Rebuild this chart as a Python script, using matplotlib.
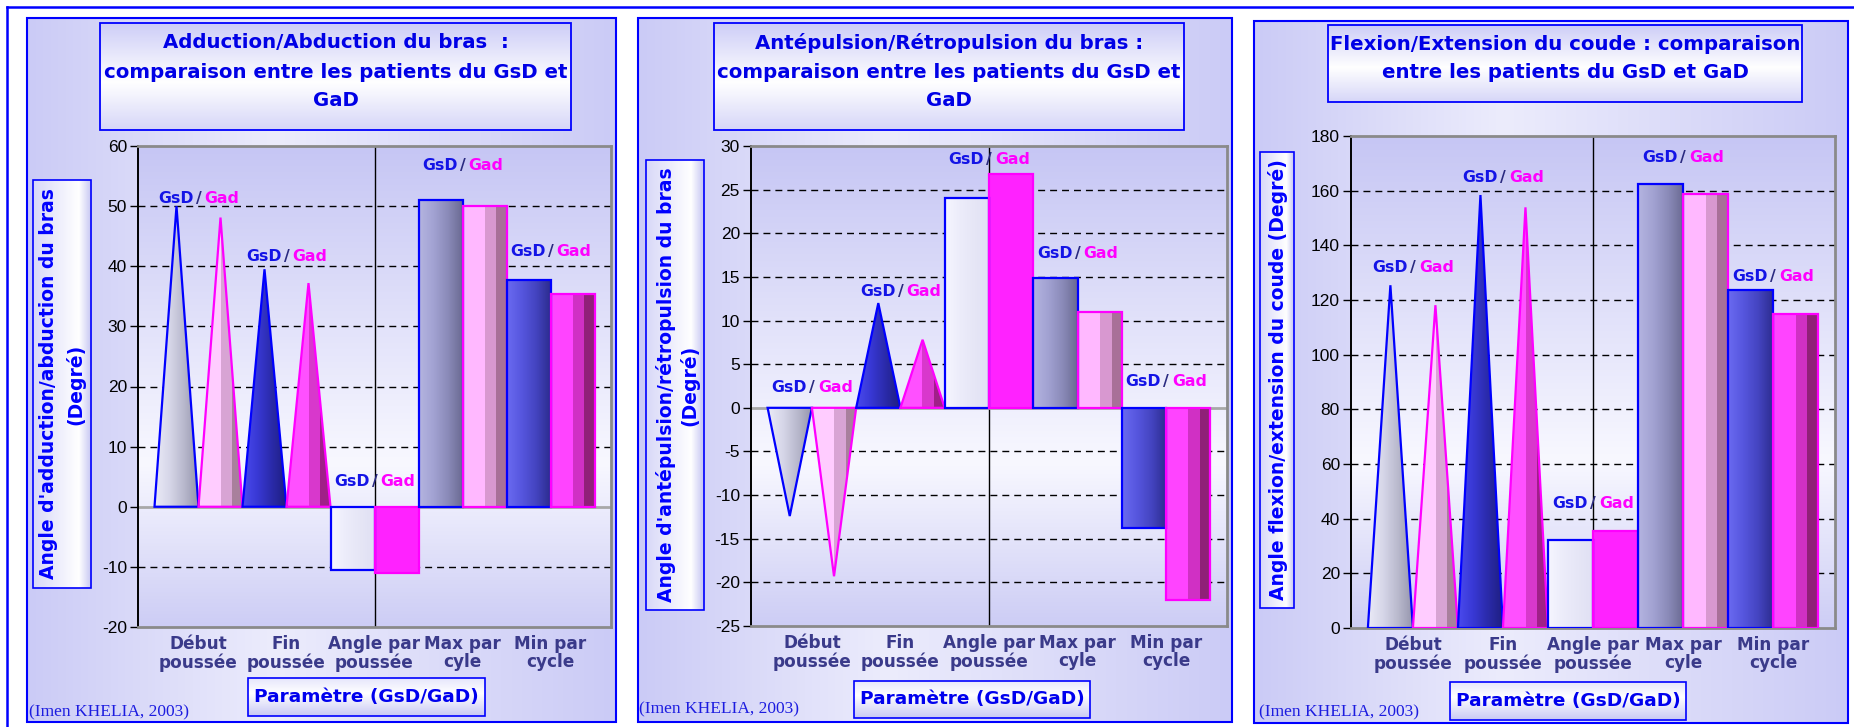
import numpy as np
import matplotlib
matplotlib.use('Agg')
import matplotlib.pyplot as plt
from matplotlib.patches import Rectangle, Polygon
from matplotlib.colors import to_rgb
from matplotlib.transforms import offset_copy
from matplotlib.lines import Line2D

# ---------------- data ----------------
categories = ["Début\npoussée", "Fin\npoussée", "Angle par\npoussée", "Max par\ncyle", "Min par\ncycle"]
series_names = ["GsD", "Gad"]

abd_gsd = [50.0, 39.5, -10.6, 51.0, 37.7]
abd_gad = [48.1, 37.2, -11.1, 50.0, 35.4]

ante_gsd = [-12.4, 12.0, 24.0, 14.9, -13.8]
ante_gad = [-19.3, 7.8, 26.8, 11.0, -22.0]

flex_gsd = [125.4, 158.4, 32.1, 162.5, 123.6]
flex_gad = [118.1, 153.9, 35.4, 158.9, 114.9]

yticks_abd = [-20, -10, 0, 10, 20, 30, 40, 50, 60]
yticks_ante = [-25, -20, -15, -10, -5, 0, 5, 10, 15, 20, 25, 30]
yticks_flex = [0, 20, 40, 60, 80, 100, 120, 140, 160, 180]

titles = [
    ["Adduction/Abduction du bras  :", "comparaison entre les patients du GsD et", "GaD"],
    ["Antépulsion/Rétropulsion du bras :", "comparaison entre les patients du GsD et", "GaD"],
    ["Flexion/Extension du coude : comparaison", "entre les patients du GsD et GaD"],
]
ylabels = [
    ["Angle d'adduction/abduction du bras", "(Degré)"],
    ["Angle d'antépulsion/rétropulsion du bras", "(Degré)"],
    ["Angle flexion/extension du coude (Degré)"],
]
xlabel_text = "Paramètre (GsD/GaD)"
credit_text = "(Imen KHELIA, 2003)"

# ---------------- layout (pixels) ----------------
W, H, DPI = 1854, 727, 100
panel_boxes = [(27, 18, 616, 722), (638, 18, 1232, 722), (1254, 21, 1848, 723)]
axes_boxes = [(138, 146, 611, 627), (751, 146, 1227, 626), (1351, 136, 1835, 628)]
title_boxes = [(100, 23, 571, 130), (714, 23, 1184, 130), (1328, 25, 1802, 102)]
title_line_y = [[43, 72, 100], [43, 72, 100], [45, 73]]
ylabel_boxes = [(33, 180, 91, 588), (646, 160, 704, 610), (1260, 152, 1294, 608)]
ylabel_line_x = [[49, 75], [666, 689], [1278]]
xlabel_boxes = [(248, 678, 485, 716), (854, 681, 1090, 718), (1450, 682, 1686, 720)]
credit_pos = [(29, 712), (639, 709), (1259, 712)]
label_offsets = [[8, 13, 25, 35, 29], [20, 12, 14, 24, 26], [18, 18, 28, 26, 14]]
bar_shapes = ['cone', 'cone', 'bar', 'bar', 'bar']

# fills: (GsD smooth stops, GaD stepped segments)
fills = [
    (['#eaeaf6', '#d6d6e8', '#b8b8cc', '#9494ac'], [('#ffccff', 0.5), ('#d8a4d4', 0.25), ('#a8809c', 0.25)]),
    (['#4a4aee', '#3838d4', '#2a2aa8', '#1e1e80'], [('#ff50ff', 0.5), ('#d838cc', 0.25), ('#a02088', 0.25)]),
    (['#f6f6ff', '#ececfa', '#e6e6f6', '#e0e0f4'], [('#ff22ff', 1.0)]),
    (['#b4b4e0', '#a2a2d2', '#8a8ab8', '#6a6a92'], [('#ffb8ff', 0.5), ('#d898d0', 0.25), ('#a87098', 0.25)]),
    (['#6a6af0', '#5656de', '#4444c0', '#2c2c8e'], [('#ff44ff', 0.5), ('#d030c4', 0.25), ('#902078', 0.25)]),
]
edge_colors = ['#0000ff', '#ff00ff']

plt.rcParams['axes.unicode_minus'] = False

fig = plt.figure(figsize=(W / DPI, H / DPI), dpi=DPI)
fig.patch.set_facecolor('white')


def frect(box):
    x0, y0, x1, y1 = box
    return [x0 / W, 1 - y1 / H, (x1 - x0) / W, (y1 - y0) / H]


def lerp_stops(stops, t):
    pos = np.array([p for p, _ in stops])
    cols = np.array([to_rgb(c) for _, c in stops])
    return np.stack([np.interp(t, pos, cols[:, k]) for k in range(3)], axis=-1)


def vgrad(stops, n=200):
    return lerp_stops(stops, np.linspace(0, 1, n))[:, None, :]


def hgrad(stops, n=200):
    return lerp_stops(stops, np.linspace(0, 1, n))[None, :, :]


def box_axes(box, img, zorder, ec='#0000ff', lw=1.2):
    ax = fig.add_axes(frect(box), zorder=zorder)
    ax.set_axis_off()
    ax.imshow(img, extent=[0, 1, 0, 1], aspect='auto', interpolation='bilinear', origin='upper')
    ax.set_xlim(0, 1)
    ax.set_ylim(0, 1)
    if ec:
        ax.add_patch(Rectangle((0, 0), 1, 1, transform=ax.transAxes, fill=False, ec=ec, lw=lw, clip_on=False))
    return ax


LAV = '#cbcbf6'

# outer frame (top and left visible)
fig.add_artist(Line2D([7 / W, 1], [1 - 7 / H, 1 - 7 / H], color='#0000ff', lw=1.8, transform=fig.transFigure))
fig.add_artist(Line2D([7 / W, 7 / W], [0, 1 - 7 / H], color='#0000ff', lw=1.8, transform=fig.transFigure))

datasets = [(abd_gsd, abd_gad, yticks_abd), (ante_gsd, ante_gad, yticks_ante), (flex_gsd, flex_gad, yticks_flex)]

for p in range(3):
    gsd, gad, yt = datasets[p]
    # panel background
    box_axes(panel_boxes[p], hgrad([(0, LAV), (0.42, '#ececfc'), (1, LAV)]), zorder=0, lw=1.5)
    # title box
    box_axes(title_boxes[p], vgrad([(0, '#cdcdf7'), (0.55, '#ffffff'), (1, '#d6d6f8')]), zorder=1, lw=1.3)
    for line, ly in zip(titles[p], title_line_y[p]):
        fig.text((title_boxes[p][0] + title_boxes[p][2]) / 2 / W, 1 - ly / H, line, ha='center', va='center',
                 family='DejaVu Sans', weight='bold', size=14.2, color='#0000e6', zorder=10)
    # ylabel box
    box_axes(ylabel_boxes[p], hgrad([(0, '#d8d8f8'), (0.78, '#ffffff'), (1, '#c4c4f2')]), zorder=1, lw=1.2)
    ycen = (ylabel_boxes[p][1] + ylabel_boxes[p][3]) / 2
    for line, lx in zip(ylabels[p], ylabel_line_x[p]):
        fig.text(lx / W, 1 - ycen / H, line, rotation=90, ha='center', va='center',
                 family='DejaVu Sans', weight='bold', size=13.5, color='#0000ff', zorder=10)
    # xlabel box
    box_axes(xlabel_boxes[p], vgrad([(0, '#e6e6fc'), (0.4, '#ffffff'), (1, '#c8c8f4')]), zorder=1, lw=1.2)
    fig.text((xlabel_boxes[p][0] + xlabel_boxes[p][2]) / 2 / W, 1 - (xlabel_boxes[p][1] + xlabel_boxes[p][3]) / 2 / H,
             xlabel_text, ha='center', va='center', family='DejaVu Sans', weight='bold', size=13.3,
             color='#0000ee', zorder=10)
    # credit
    fig.text(credit_pos[p][0] / W, 1 - credit_pos[p][1] / H, credit_text, ha='left', va='center',
             family='Liberation Serif', size=12.5, color='#1c1ce0', zorder=10)

    # main axes
    ax = fig.add_axes(frect(axes_boxes[p]), zorder=2)
    ax.patch.set_alpha(0)
    ax.imshow(vgrad([(0, '#c6c6f4'), (0.66, '#f8f8ff'), (1, '#cdcdf5')]), extent=[0, 1, 0, 1],
              transform=ax.transAxes, aspect='auto', interpolation='bilinear', origin='upper', zorder=0)
    ymin, ymax = yt[0], yt[-1]
    for v in yt:
        if v not in (0, ymin, ymax):
            ax.axhline(v, color='black', lw=1.0, ls=(0, (5, 3.6)), zorder=1)
    ax.axvline(2, color='black', lw=1.0, zorder=1.5)
    if ymin < 0:
        ax.axhline(0, color='#a8a8a8', lw=2.0, zorder=1.6)

    width = 0.5
    for i in range(len(categories)):
        for s, vals in enumerate((gsd, gad)):
            v = vals[i]
            xc = i + (s - 0.5) * width
            x0, x1 = xc - width / 2, xc + width / 2
            if bar_shapes[i] == 'cone':
                verts = [(x0, 0), (x1, 0), (xc, v)]
            else:
                verts = [(x0, 0), (x1, 0), (x1, v), (x0, v)]
            patch = Polygon(verts, closed=True, facecolor='none', edgecolor=edge_colors[s], lw=1.6, zorder=4)
            ax.add_patch(patch)
            if s == 0:
                cols = np.array([to_rgb(c) for c in fills[i][0]])
                t = np.linspace(0, 1, 64)
                src = np.linspace(0, 1, len(cols))
                img = np.stack([np.interp(t, src, cols[:, k]) for k in range(3)], axis=-1)[None, :, :]
                interp = 'bilinear'
            else:
                colsl = []
                for c, wfrac in fills[i][1]:
                    colsl += [to_rgb(c)] * int(round(wfrac * 40))
                img = np.array(colsl)[None, :, :]
                interp = 'nearest'
            im = ax.imshow(img, extent=[x0, x1, min(0, v), max(0, v)], aspect='auto',
                           interpolation=interp, origin='upper', zorder=3)
            im.set_clip_path(patch)
        # "GsD / Gad" label
        ref = max(0, gsd[i], gad[i])
        base = offset_copy(ax.transData, fig=fig, x=0, y=label_offsets[p][i], units='dots')
        ax.text(i, ref, "/", transform=base, ha='center', va='center', family='DejaVu Sans',
                weight='bold', size=11.3, color='#2a2a80', zorder=6)
        ax.text(i, ref, series_names[0], transform=offset_copy(base, fig=fig, x=-5, y=0, units='dots'),
                ha='right', va='center', family='DejaVu Sans', weight='bold', size=11.3, color='#1414e6', zorder=6)
        ax.text(i, ref, series_names[1], transform=offset_copy(base, fig=fig, x=6, y=0, units='dots'),
                ha='left', va='center', family='DejaVu Sans', weight='bold', size=11.3, color='#ff00ff', zorder=6)

    ax.set_xlim(-0.6875, 4.6875)
    ax.set_ylim(ymin, ymax)
    ax.set_yticks(yt)
    ax.set_yticklabels([str(v) for v in yt], family='Liberation Sans', size=12.5, color='black')
    ax.tick_params(axis='y', direction='out', length=6, width=1, color='black', pad=2)
    ax.set_xticks(range(len(categories)))
    ax.set_xticklabels(categories, family='DejaVu Sans', weight='bold', size=12.2, color='#3a3a8a')
    for lbl in ax.get_xticklabels():
        lbl.set_linespacing(1.0)
    ax.tick_params(axis='x', length=0, pad=6)
    ax.spines['left'].set_color('black')
    ax.spines['left'].set_linewidth(1.4)
    for sp in ('top', 'right', 'bottom'):
        ax.spines[sp].set_color('#8a8a8a')
        ax.spines[sp].set_linewidth(2.0)

fig.savefig('out.png', dpi=DPI, facecolor='white')
